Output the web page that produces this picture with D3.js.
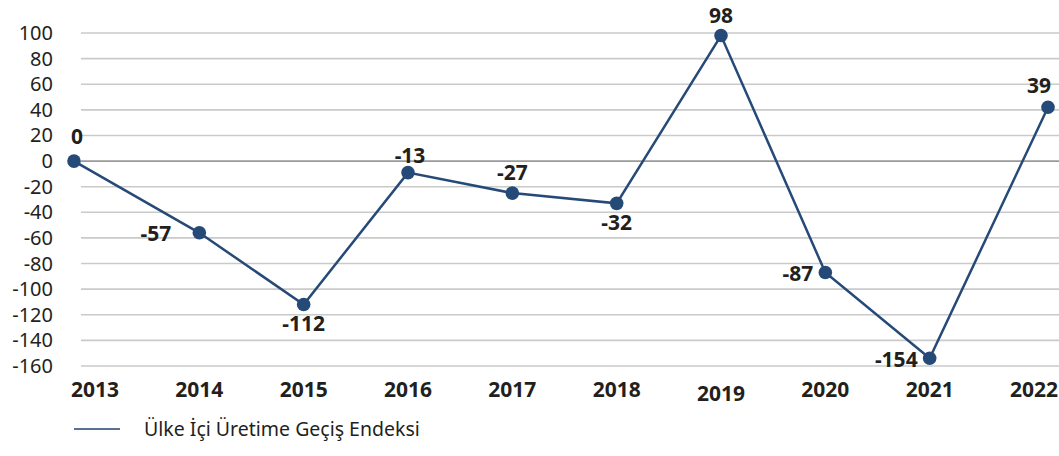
<!DOCTYPE html>
<html>
<head>
<meta charset="utf-8">
<script src="https://cdn.jsdelivr.net/npm/d3@7"></script>
<style>
  body { margin: 0; background: #fff; }
  text { font-family: "Noto Sans", "Open Sans", sans-serif; fill: #231f20; }
</style>
</head>
<body>
<svg id="chart" width="1059" height="456"></svg>
<script>
const years = ["2013", "2014", "2015", "2016", "2017", "2018", "2019", "2020", "2021", "2022"];
// values as plotted
const values = [0, -56, -112, -9, -25, -33, 98, -87, -154, 42];
// values as printed next to each marker
const valueLabels = ["0", "-57", "-112", "-13", "-27", "-32", "98", "-87", "-154", "39"];
// where each label sits relative to its marker
const labelSides = ["above", "left", "below", "above", "above", "below", "above", "left", "left", "above"];
const yTicks = [100, 80, 60, 40, 20, 0, -20, -40, -60, -80, -100, -120, -140, -160];
const seriesName = "Ülke İçi Üretime Geçiş Endeksi";

const lineColor = "#264a78";
const svg = d3.select("#chart");

const x = d3.scalePoint().domain(years).range([95, 1034]);
const y = d3.scaleLinear().domain([-160, 100]).range([366, 33]);

// first and last markers are pushed out to the plot edges
function px(d, i) {
  if (i === 0) return x(years[i]) - 21;
  if (i === years.length - 1) return x(years[i]) + 14;
  return x(years[i]);
}

// small hand nudges for a few labels
const labelNudge = { 0: [3, -4], 1: [-16, 0], 3: [2, 3], 9: [-9, -2] };

// gridlines
svg.append("g")
  .selectAll("line")
  .data(yTicks)
  .join("line")
  .attr("x1", 81)
  .attr("x2", 1059)
  .attr("y1", d => y(d))
  .attr("y2", d => y(d))
  .attr("stroke", d => d === 0 ? "#9a9a9a" : "#cacaca")
  .attr("stroke-width", 1.6);

// y axis labels
svg.append("g")
  .selectAll("text")
  .data(yTicks)
  .join("text")
  .attr("x", 53)
  .attr("y", d => y(d))
  .attr("dy", "0.35em")
  .attr("text-anchor", "end")
  .style("font-size", "20px")
  .text(d => d);

// x axis labels
svg.append("g")
  .selectAll("text")
  .data(years)
  .join("text")
  .attr("x", d => x(d))
  .attr("y", d => d === "2019" ? 394 : 390)
  .attr("dy", "0.35em")
  .attr("text-anchor", "middle")
  .style("font-size", "21px")
  .style("font-weight", "bold")
  .text(d => d);

// series line
const line = d3.line()
  .x((d, i) => px(d, i))
  .y(d => y(d));

svg.append("path")
  .datum(values)
  .attr("fill", "none")
  .attr("stroke", lineColor)
  .attr("stroke-width", 2.5)
  .attr("d", line);

svg.append("g")
  .selectAll("circle")
  .data(values)
  .join("circle")
  .attr("cx", (d, i) => px(d, i))
  .attr("cy", d => y(d))
  .attr("r", 6.8)
  .attr("fill", lineColor);

// value labels
svg.append("g")
  .selectAll("text")
  .data(values)
  .join("text")
  .attr("x", (d, i) => {
    const nudge = labelNudge[i] ? labelNudge[i][0] : 0;
    if (labelSides[i] === "left") return px(d, i) - 12 + nudge;
    return px(d, i) + nudge;
  })
  .attr("y", (d, i) => {
    const nudge = labelNudge[i] ? labelNudge[i][1] : 0;
    const side = labelSides[i];
    if (side === "above") return y(d) - 20 + nudge;
    if (side === "below") return y(d) + 19 + nudge;
    return y(d) + 1 + nudge;
  })
  .attr("dy", "0.35em")
  .attr("text-anchor", (d, i) => labelSides[i] === "left" ? "end" : "middle")
  .style("font-size", "21px")
  .style("font-weight", "bold")
  .text((d, i) => valueLabels[i]);

// legend
const legend = svg.append("g").attr("transform", "translate(74, 429)");
legend.append("line")
  .attr("x1", 0)
  .attr("x2", 46)
  .attr("stroke", "#5b7094")
  .attr("stroke-width", 2);
legend.append("text")
  .attr("x", 70)
  .attr("dy", "0.35em")
  .style("font-size", "19.5px")
  .text(seriesName);
</script>
</body>
</html>
